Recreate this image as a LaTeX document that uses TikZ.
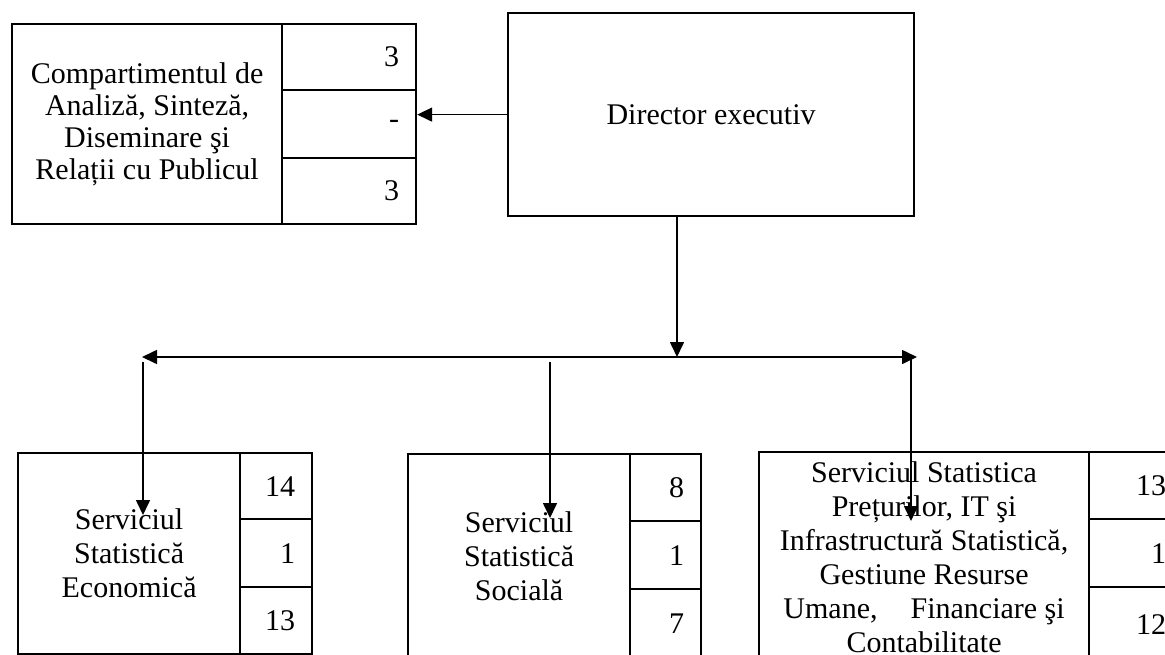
\documentclass[tikz,border=0pt]{standalone}
\usepackage{fontspec}
\setmainfont{Liberation Serif}
\usetikzlibrary{arrows.meta}
\tikzset{
  cellbox/.style={draw, line width=2.2pt, inner sep=0pt, anchor=north west, font=\fontsize{30}{34}\selectfont},
  txtcell/.style={cellbox, align=center},
  numcell/.style={cellbox, inner xsep=17pt, align=right},
  conn/.style={line width=1.6pt, -{Triangle[length=15pt,width=14pt]}},
  conn2/.style={line width=1.6pt, {Triangle[length=15pt,width=14pt]}-{Triangle[length=15pt,width=14pt]}}
}
\begin{document}
\begin{tikzpicture}[x=1pt,y=-1pt]
\useasboundingbox (0,0) rectangle (1165,654);

% top-left compartment
\node[txtcell, minimum width=270pt, minimum height=200pt, font=\fontsize{30}{32}\selectfont] (tlt) at (11,23)
  {Compartimentul de\\Analiză, Sinteză,\\Diseminare şi\\Relații cu Publicul};
\node[numcell, text width=100pt, minimum width=134pt, minimum height=66pt] (tl1) at (281,23) {3};
\node[numcell, text width=100pt, minimum width=134pt, minimum height=68pt] (tl2) at (281,89) {\raisebox{-8pt}{-}};
\node[numcell, text width=100pt, minimum width=134pt, minimum height=66pt] (tl3) at (281,157) {3};

% director
\node[txtcell, minimum width=406pt, minimum height=203pt] (dir) at (507,12) {Director executiv};

% bottom box 1
\node[txtcell, minimum width=222pt, minimum height=201pt] (b1t) at (17,452)
  {Serviciul\\Statistică\\Economică};
\node[numcell, text width=38pt, minimum width=72pt, minimum height=66pt] (b11) at (239,452) {14};
\node[numcell, text width=38pt, minimum width=72pt, minimum height=68pt] (b12) at (239,518) {1};
\node[numcell, text width=38pt, minimum width=72pt, minimum height=67pt] (b13) at (239,586) {13};

% bottom box 2
\node[txtcell, minimum width=222pt, minimum height=205pt] (b2t) at (407,453)
  {Serviciul\\Statistică\\Socială};
\node[numcell, text width=37pt, minimum width=71pt, minimum height=67pt] (b21) at (629,453) {8};
\node[numcell, text width=37pt, minimum width=71pt, minimum height=68pt] (b22) at (629,520) {1};
\node[numcell, text width=37pt, minimum width=71pt, minimum height=70pt] (b23) at (629,588) {7};

% bottom box 3
\node[txtcell, minimum width=330pt, minimum height=210pt] (b3t) at (758,451)
  {Serviciul Statistica\\Prețurilor, IT şi\\Infrastructură Statistică,\\Gestiune Resurse\\Umane,\hspace{1.1em}Financiare şi\\Contabilitate};
\node[numcell, text width=60pt, minimum width=94pt, minimum height=67pt] (b31) at (1088,451) {13};
\node[numcell, text width=60pt, minimum width=94pt, minimum height=68pt] (b32) at (1088,518) {1};
\node[numcell, text width=60pt, minimum width=94pt, minimum height=75pt] (b33) at (1088,586) {12};

% connectors
\draw[conn] (dir.west) -- (dir.west -| tl2.east);
\coordinate (hub) at (677,357);
\draw[conn] (dir.south -| hub) -- (hub);
\coordinate (hl) at (142,357);
\coordinate (hr) at (917,357);
\draw[conn2] (hl) -- (hr);
\coordinate (s1) at (143,362);
\coordinate (e1) at (143,515);
\draw[conn] (s1) -- (e1);
\coordinate (s2) at (550,362);
\coordinate (e2) at (550,518);
\draw[conn] (s2) -- (e2);
\coordinate (s3) at (911,357);
\coordinate (e3) at (911,521);
\draw[conn] (s3) -- (e3);
\end{tikzpicture}
\end{document}
